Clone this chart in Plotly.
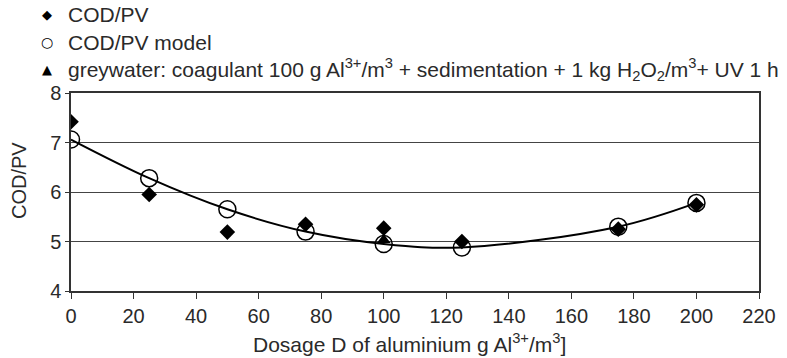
import plotly.graph_objects as go

dose = [0, 25, 50, 75, 100, 125, 175, 200]
cod_pv = [7.42, 5.95, 5.19, 5.35, 5.27, 5.0, 5.25, 5.74]
cod_pv_model = [7.06, 6.28, 5.65, 5.2, 4.95, 4.88, 5.3, 5.78]
grey_x = [100]
grey_y = [5.03]

x_ticks = list(range(0, 221, 20))
y_ticks = [4, 5, 6, 7, 8]

legend_names = [
    "COD/PV",
    "COD/PV model",
    "greywater: coagulant 100 g Al<sup>3+</sup>/m<sup>3</sup> + sedimentation + 1 kg H<sub>2</sub>O<sub>2</sub>/m<sup>3</sup>+ UV 1 h",
]
legend_glyphs = ["◆", "○", "▲"]
x_title = "Dosage D of aluminium g Al<sup>3+</sup>/m<sup>3</sup>]"
y_title = "COD/PV"

W, H = 787, 358
L, R, T, B = 71, 28, 93, 67
PW, PH = W - L - R, H - T - B


def px(x):
    return (x - L) / PW


def py(y):
    return (H - B - y) / PH


fig = go.Figure()
fig.add_trace(go.Scatter(x=dose, y=cod_pv_model, mode="lines", line=dict(color="black", width=2, shape="spline", smoothing=1.0),
                         showlegend=False, hoverinfo="skip"))
fig.add_trace(go.Scatter(x=dose, y=cod_pv, mode="markers", name=legend_names[0], showlegend=False,
                         marker=dict(symbol="diamond", size=12, color="black")))
fig.add_trace(go.Scatter(x=dose, y=cod_pv_model, mode="markers", name=legend_names[1], showlegend=False,
                         marker=dict(symbol="circle-open", size=17, color="black", line=dict(width=1.5, color="black"))))
fig.add_trace(go.Scatter(x=grey_x, y=grey_y, mode="markers", name=legend_names[2], showlegend=False,
                         marker=dict(symbol="triangle-up", size=12, color="black")))

font = dict(family="Liberation Sans, Arial, sans-serif", size=20, color="#2a2a2a")
lfont = dict(family="Liberation Sans, Arial, sans-serif", size=21, color="#2a2a2a")
glyph_sizes = [13, 14, 13]
rows = [15, 42, 69]
for name, glyph, gs, ry in zip(legend_names, legend_glyphs, glyph_sizes, rows):
    fig.add_annotation(xref="paper", yref="paper", x=px(47), y=py(ry), text=glyph, showarrow=False,
                       xanchor="center", yanchor="middle",
                       font=dict(family="DejaVu Sans", size=gs, color="black"))
    fig.add_annotation(xref="paper", yref="paper", x=px(66), y=py(ry), text=name, showarrow=False,
                       xanchor="left", yanchor="middle", font=lfont)

fig.add_annotation(xref="paper", yref="paper", x=px(19), y=py(181), text=y_title, textangle=-90,
                   showarrow=False, xanchor="center", yanchor="middle", font=font)
fig.add_annotation(xref="paper", yref="paper", x=px(409), y=py(343), text=x_title,
                   showarrow=False, xanchor="center", yanchor="middle", font=lfont)

fig.update_layout(
    width=W, height=H,
    margin=dict(l=L, r=R, t=T, b=B),
    paper_bgcolor="white", plot_bgcolor="white",
    font=font,
    showlegend=False,
    xaxis=dict(range=[0, 220], tickvals=x_ticks, ticks="outside", ticklen=6, tickcolor="#333",
               showline=True, linecolor="#333", linewidth=1.5, mirror=True, showgrid=False, zeroline=False),
    yaxis=dict(range=[4, 8], tickvals=y_ticks, ticks="outside", ticklen=4, tickcolor="#333",
               showline=True, linecolor="#333", linewidth=1.5, mirror=True, showgrid=True,
               gridcolor="#444", gridwidth=1.2, zeroline=False),
)
fig.write_html("out.html")
